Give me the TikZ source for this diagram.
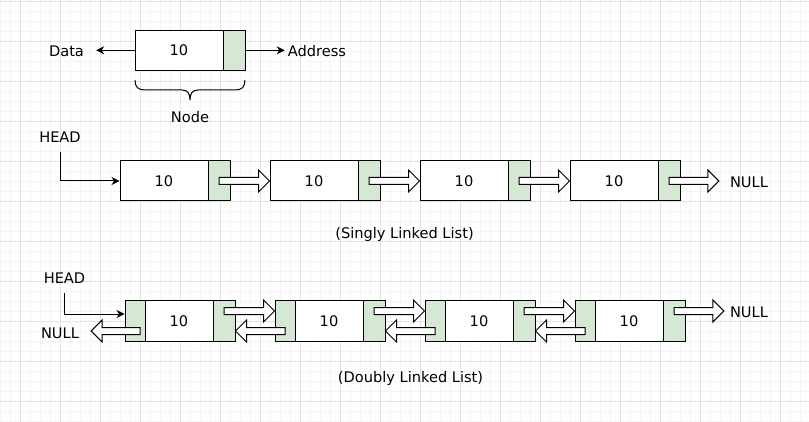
\documentclass[tikz,border=0pt]{standalone}
\usepackage{fontspec}
\setmainfont{DejaVu Sans}
\usetikzlibrary{arrows.meta,calc}
\definecolor{ptrgreen}{HTML}{D5E8D4}
\definecolor{gridminor}{HTML}{F4F4F4}
\definecolor{gridmajor}{HTML}{E2E2E2}
\tikzset{
  lbl/.style={font=\fontsize{14.6}{17}\selectfont, inner sep=0pt},
  cell/.style={draw=black, line width=1pt, minimum height=40pt, inner sep=0pt, font=\fontsize{14.6}{17}\selectfont},
  datacell/.style={cell, fill=white},
  ptrcell/.style={cell, fill=ptrgreen},
  thinarr/.style={draw=black, line width=1pt, -{Stealth[length=8pt,width=8pt,inset=2.5pt]}},
  hollow/.style={draw=black, line width=1pt, fill=white, line join=miter},
  bracestyle/.style={draw=black, line width=1pt},
  minorline/.style={draw=gridminor, line width=0.8pt},
  majorline/.style={draw=gridmajor, line width=0.8pt}
}
\newcommand\hollowarrow[2]{%
  \draw[hollow] let \p1=#1, \p2=#2, \n1={sign(\x2-\x1)} in
    (\x1,{\y1+3.5pt}) -- ({\x2-(\n1)*11pt},{\y1+3.5pt}) -- ({\x2-(\n1)*11pt},{\y1+11pt})
    -- (\x2,\y1) -- ({\x2-(\n1)*11pt},{\y1-11pt}) -- ({\x2-(\n1)*11pt},{\y1-3.5pt})
    -- (\x1,{\y1-3.5pt}) -- cycle;}
\begin{document}
\begin{tikzpicture}[x=1pt,y=-1pt]
\useasboundingbox (0,0) rectangle (809,422);
\fill[white] (0,0) rectangle (809,422);
% grid
\foreach \k in {0,...,80} \draw[minorline] (\k*10+0.7,0) -- (\k*10+0.7,422);
\foreach \k in {0,...,42} \draw[minorline] (0,\k*10+1.7) -- (809,\k*10+1.7);
\foreach \k in {0,...,19} \draw[majorline] (\k*40+20.7,0) -- (\k*40+20.7,422);
\foreach \k in {0,...,10} \draw[majorline] (0,\k*40+1.7) -- (809,\k*40+1.7);

% ---- single node legend
\node[datacell, minimum width=88pt] (td) at (179,50.3) {10};
\node[ptrcell, minimum width=22pt] (tp) at (234,50.3) {};
\node[lbl, inner xsep=12pt] (lData) at (66.5,51.5) {Data};
\node[lbl, inner xsep=3pt] (lAddr) at (317,51.5) {Address};
\node[lbl] (lNode) at (190,117) {Node};
\draw[thinarr] (td.west) -- (td.west -| lData.east);
\draw[thinarr] (tp.east) -- (tp.east -| lAddr.west);
\draw[bracestyle] (135,80) .. controls (135,87) and (138,90) .. (145,90) -- (182,90)
  .. controls (188,90) and (190,94) .. (190,100)
  .. controls (190,94) and (192,90) .. (198,90) -- (235,90)
  .. controls (242,90) and (245,87) .. (245,80);

% ---- singly linked list
\foreach \i in {1,...,4} {
  \node[datacell, minimum width=88pt] (sd\i) at ({164+150*(\i-1)},181) {10};
  \node[ptrcell, minimum width=22pt] (sp\i) at ({219+150*(\i-1)},181) {};
}
\node[lbl] (headS) at (60,137) {HEAD};
\node[lbl, inner xsep=11pt] (nullS) at (749,182) {NULL};
\node[lbl] (capS) at (404.5,234) {(Singly Linked List)};
\draw[thinarr, shorten <=9.5pt] (headS.south) |- (sd1.west);
\foreach \i/\j in {1/2,2/3,3/4} \hollowarrow{(sp\i.center)}{(sd\j.west)};
\hollowarrow{(sp4.center)}{(nullS.west)}

% ---- doubly linked list
\foreach \i in {1,...,4} {
  \node[ptrcell, minimum width=20pt] (dl\i) at ({135+150*(\i-1)},321) {};
  \node[datacell, minimum width=68pt] (dd\i) at ({179+150*(\i-1)},321) {10};
  \node[ptrcell, minimum width=22pt] (dr\i) at ({224+150*(\i-1)},321) {};
}
\node[lbl] (headD) at (64.5,278) {HEAD};
\node[lbl, inner xsep=12pt] (nullD) at (60,333) {NULL};
\node[lbl, inner xsep=6pt] (nullE) at (749,312) {NULL};
\node[lbl] (capD) at (410.5,378) {(Doubly Linked List)};
\draw[thinarr, shorten <=9pt] (headD.south) |- ([yshift=7pt]dl1.west);
\foreach \i/\j in {1/2,2/3,3/4} {
  \hollowarrow{([yshift=10pt]dr\i.center)}{([yshift=10pt]dl\j.west)}
  \hollowarrow{([yshift=-10pt]dl\j.center)}{([yshift=-10pt]dr\i.east)}
}
\hollowarrow{([xshift=5pt,yshift=-10pt]dl1.center)}{([yshift=-10pt]nullD.east)}
\hollowarrow{([yshift=10pt]dr4.center)}{(nullE.west)}
\end{tikzpicture}
\end{document}
